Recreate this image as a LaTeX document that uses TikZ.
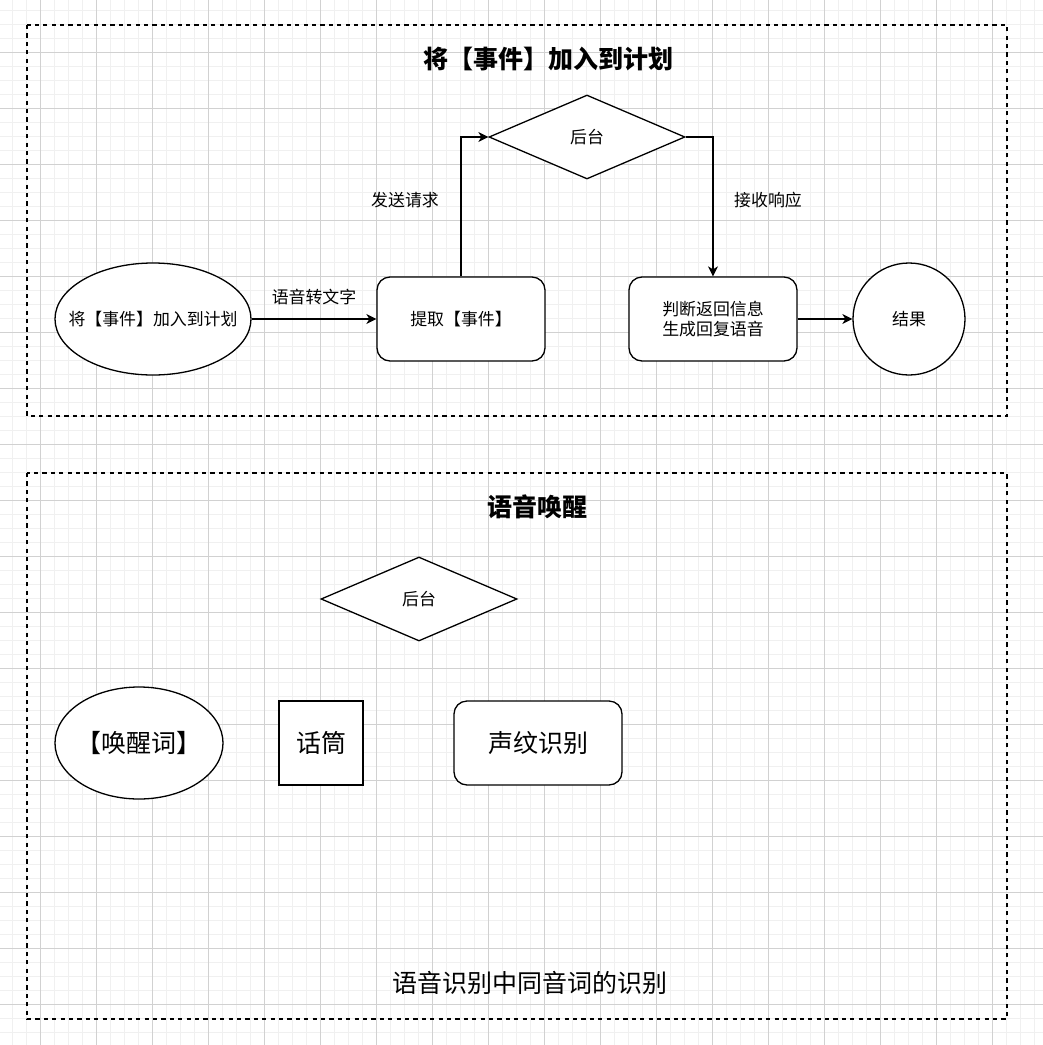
\documentclass[tikz,border=0pt]{standalone}
\usepackage{fontspec}
\setmainfont{Noto Sans CJK SC}
\usetikzlibrary{shapes.geometric,arrows.meta}
\begin{document}
\begin{tikzpicture}[x=1pt,y=-1pt,
  lw/.style={line width=1.3pt},
  small/.style={font=\fontsize{16.9}{20}\selectfont},
  big/.style={font=\fontsize{25}{29}\selectfont},
  shp/.style={draw,lw,fill=white,inner sep=0pt,small,align=center},
  rbox/.style={shp,rectangle,rounded corners=13pt,minimum width=168pt,minimum height=84pt},
  sbox/.style={shp,rectangle,minimum width=84pt,minimum height=84pt},
  ell/.style={shp,ellipse,minimum width=196pt,minimum height=112pt},
  dia/.style={shp,diamond,minimum width=196pt,minimum height=84pt},
  circ/.style={shp,circle,minimum size=112pt},
  arr/.style={lw,-{Stealth[length=10pt,width=10pt,inset=3pt]}},
  lbl/.style={small,inner sep=0pt},
  title/.style={big,font=\fontsize{25}{29}\selectfont\bfseries,inner sep=0pt},
  cont/.style={line width=1.2pt,dash pattern=on 4.2pt off 4.2pt},
  minorg/.style={line width=1pt,draw=black!6},
  majorg/.style={line width=1pt,draw=black!18},
]
% background and grid
\useasboundingbox (0,0) rectangle (1043,1045);
\fill[white] (0,0) rectangle (1043,1045);
\foreach \i in {0,...,73} {
  \draw[minorg] ({12+14*\i},0) -- ({12+14*\i},1045);
  \draw[minorg] (0,{10+14*\i}) -- (1043,{10+14*\i});
}
\foreach \i in {0,...,17} {
  \draw[majorg] ({40+56*\i},0) -- ({40+56*\i},1045);
  \draw[majorg] (0,{52+56*\i}) -- (1043,{52+56*\i});
}

% containers
\draw[cont] (27,25) rectangle (1007,416);
\draw[cont] (27,473) rectangle (1007,1019);

% top section
\node[title] (t1) at (548,59) {将【事件】加入到计划};
\node[ell,label={[lbl]center:将【事件】加入到计划}] (e1) at (153,319) {};
\node[rbox] (b1) at (461,319) {提取【事件】};
\node[dia] (d1) at (587,137) {后台};
\node[rbox] (b2) at (713,319) {判断返回信息\\生成回复语音};
\node[circ] (c1) at (909,319) {结果};

\draw[arr] (e1.east) -- (b1.west) node[lbl,midway,yshift=22pt] {语音转文字};
\draw[arr] (b1.north) |- (d1.west) node[lbl,pos=0.275,xshift=-56pt] {发送请求};
\draw[arr] (d1.east) -| (b2.north) node[lbl,pos=0.725,xshift=55pt] {接收响应};
\draw[arr] (b2.east) -- (c1.west);

% bottom section
\node[title] (t2) at (537,507) {语音唤醒};
\node[dia] (d2) at (419,599) {后台};
\node[ell,minimum width=168pt,label={[big,inner sep=0pt]center:【唤醒词】}] (e2) at (139,743) {};
\node[sbox,big] (m1) at (321,743) {话筒};
\node[rbox,big] (v1) at (538,743) {声纹识别};
\node[big,inner sep=0pt] (t3) at (530,983) {语音识别中同音词的识别};
\end{tikzpicture}
\end{document}
